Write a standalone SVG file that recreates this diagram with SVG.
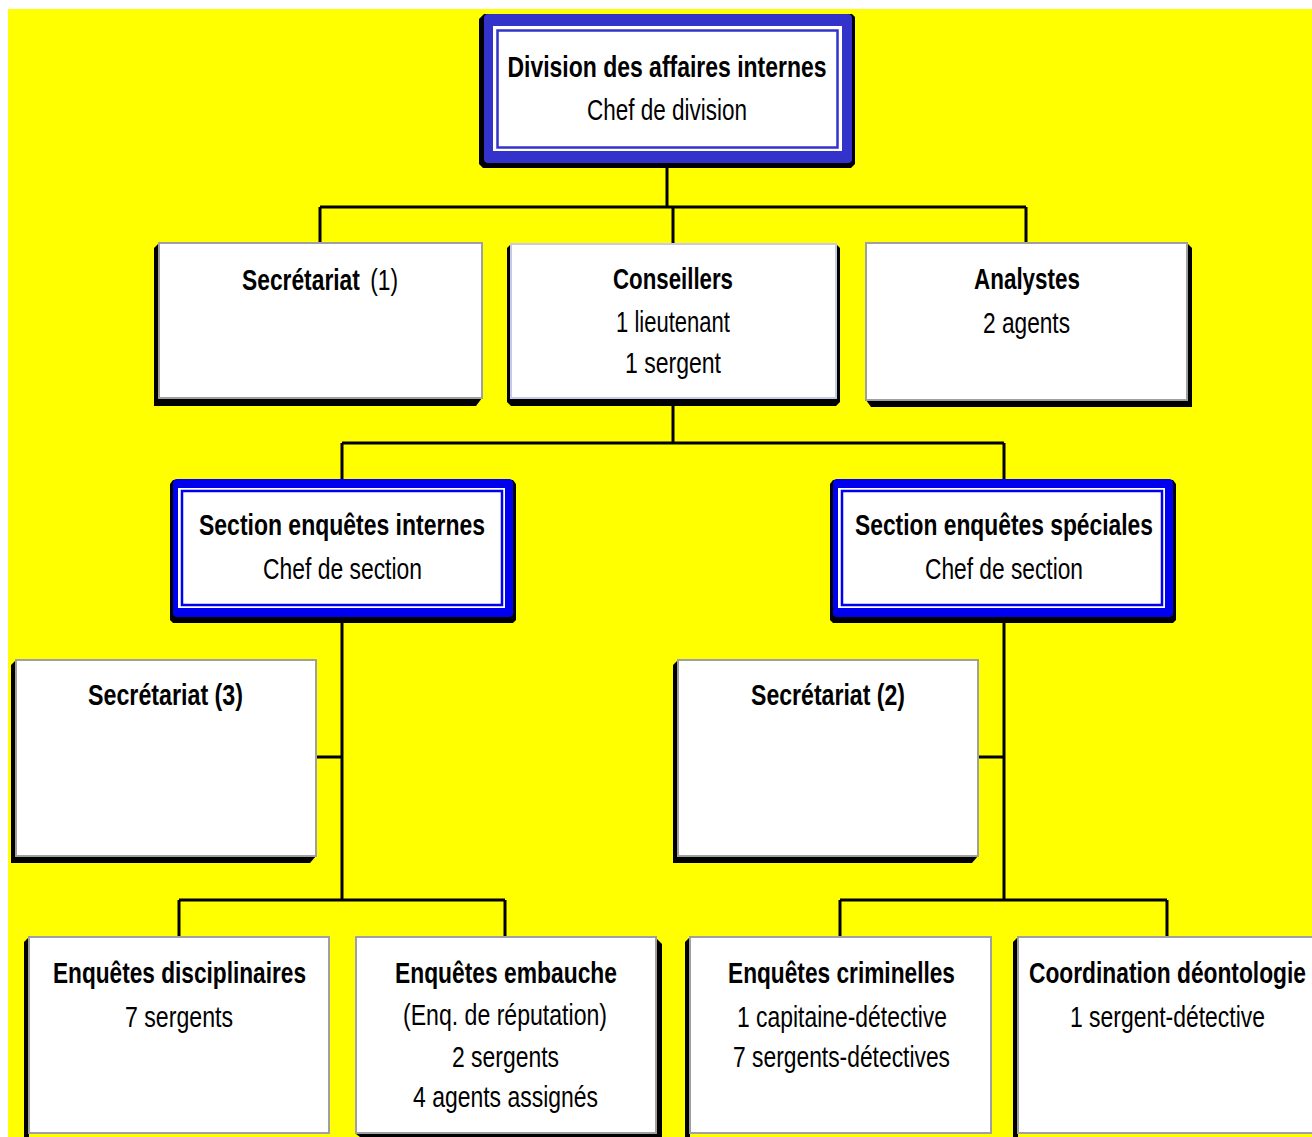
<svg xmlns="http://www.w3.org/2000/svg" width="1312" height="1137" viewBox="0 0 1312 1137">
<style>
text{font-family:"Liberation Sans Narrow","Liberation Sans",Arial,sans-serif;font-size:29px;fill:#000;text-anchor:middle}
.b{font-weight:bold}
.r{font-weight:normal}
.box{fill:#fff;stroke:#a0a0a0;stroke-width:2}
.sh{fill:#000}
.c{stroke:#000;stroke-width:3;fill:none}
.blueA{fill:#3333cc}
.blueB{fill:#0000f0}
.wb{fill:#fff}
</style>
<rect x="0" y="0" width="1312" height="1137" fill="#fff"/>
<rect x="8" y="9" width="1304" height="1128" fill="#ffff00"/>

<g id="connectors">
<path class="c" d="M667,163 V207 M320,207 H1026 M320,207 V243 M673,207 V243 M1026,207 V243"/>
<path class="c" d="M673,398 V443 M342,443 H1004 M342,443 V479 M1004,443 V479"/>
<path class="c" d="M342,617 V900 M316,757 H342 M179,900 H505 M179,900 V937 M505,900 V937"/>
<path class="c" d="M1004,617 V900 M978,757 H1004 M840,900 H1167 M840,900 V937 M1167,900 V937"/>
</g>

<g id="division">
<polygon class="sh" points="479,19 484,14 852,14 855,17 855,164 851,168 483,168 479,164"/>
<rect class="blueA" x="484" y="14" width="368" height="149" rx="4"/>
<rect class="wb" x="493" y="26" width="349" height="125"/>
<rect x="497.5" y="30.5" width="340" height="117" fill="#fff" stroke="#3333cc" stroke-width="2.5"/>
<text class="b" x="667" y="77" textLength="319" lengthAdjust="spacingAndGlyphs">Division des affaires internes</text>
<text x="667" y="120" textLength="160" lengthAdjust="spacingAndGlyphs">Chef de division</text>
</g>

<g id="secretariat1">
<polygon class="sh" points="154,248 159,243 159,398 482,398 476,406 154,406"/>
<rect class="box" x="159" y="243" width="323" height="155"/>
<text x="320" y="290" textLength="156" lengthAdjust="spacingAndGlyphs"><tspan class="b">Secrétariat</tspan> <tspan class="r" dx="5">(1)</tspan></text>
</g>

<g id="conseillers">
<polygon class="sh" points="507,248 512,243 835,243 840,248 840,402 836,406 511,406 507,402"/>
<rect class="box" x="511" y="244" width="325" height="154" style="stroke:#c8c8e8"/>
<text class="b" x="673" y="289" textLength="120" lengthAdjust="spacingAndGlyphs">Conseillers</text>
<text x="673" y="332" textLength="114" lengthAdjust="spacingAndGlyphs">1 lieutenant</text>
<text x="673" y="373" textLength="96" lengthAdjust="spacingAndGlyphs">1 sergent</text>
</g>

<g id="analystes">
<polygon class="sh" points="1187,243 1192,248 1192,407 871,407 866,400"/>
<rect class="box" x="866" y="243" width="321" height="157"/>
<text class="b" x="1027" y="289" textLength="106" lengthAdjust="spacingAndGlyphs">Analystes</text>
<text x="1026.5" y="333" textLength="87" lengthAdjust="spacingAndGlyphs">2 agents</text>
</g>

<g id="section-internes">
<polygon class="sh" points="170,484 173,480 513,480 516,484 516,620 513,623 173,623 170,620"/>
<rect class="blueB" x="173" y="479" width="340" height="138" rx="4"/>
<rect class="wb" x="178" y="488" width="327" height="120"/>
<rect x="182" y="491" width="320" height="114" fill="#fff" stroke="#0000f0" stroke-width="2.5"/>
<text class="b" x="342" y="535" textLength="286" lengthAdjust="spacingAndGlyphs">Section enquêtes internes</text>
<text x="342.5" y="579" textLength="159" lengthAdjust="spacingAndGlyphs">Chef de section</text>
</g>

<g id="section-speciales">
<polygon class="sh" points="830,484 833,480 1173,480 1176,484 1176,620 1173,623 833,623 830,620"/>
<rect class="blueB" x="833" y="479" width="340" height="138" rx="4"/>
<rect class="wb" x="838" y="488" width="327" height="120"/>
<rect x="842" y="491" width="320" height="114" fill="#fff" stroke="#0000f0" stroke-width="2.5"/>
<text class="b" x="1004" y="535" textLength="298" lengthAdjust="spacingAndGlyphs">Section enquêtes spéciales</text>
<text x="1004" y="579" textLength="158" lengthAdjust="spacingAndGlyphs">Chef de section</text>
</g>

<g id="secretariat3">
<polygon class="sh" points="11,665 16,660 16,856 316,856 310,863 11,863"/>
<rect class="box" x="16" y="660" width="300" height="196"/>
<text class="b" x="165.5" y="705" textLength="155" lengthAdjust="spacingAndGlyphs">Secrétariat (3)</text>
</g>

<g id="secretariat2">
<polygon class="sh" points="673,665 678,660 678,856 978,856 972,863 673,863"/>
<rect class="box" x="678" y="660" width="300" height="196"/>
<text class="b" x="828" y="705" textLength="154" lengthAdjust="spacingAndGlyphs">Secrétariat (2)</text>
</g>

<g id="disciplinaires">
<polygon class="sh" points="24,942 29,937 29,1137 24,1137"/>
<rect class="box" x="29" y="937" width="300" height="196"/>
<text class="b" x="179.5" y="983" textLength="253" lengthAdjust="spacingAndGlyphs">Enquêtes disciplinaires</text>
<text x="179" y="1027" textLength="108" lengthAdjust="spacingAndGlyphs">7 sergents</text>
</g>

<g id="embauche">
<polygon class="sh" points="656,938 662,944 662,1137 360,1137 356,1134"/>
<rect class="box" x="356" y="937" width="300" height="196"/>
<text class="b" x="506" y="983" textLength="222" lengthAdjust="spacingAndGlyphs">Enquêtes embauche</text>
<text x="505" y="1025" textLength="204" lengthAdjust="spacingAndGlyphs">(Enq. de réputation)</text>
<text x="505.5" y="1067" textLength="107" lengthAdjust="spacingAndGlyphs">2 sergents</text>
<text x="505.5" y="1107" textLength="185" lengthAdjust="spacingAndGlyphs">4 agents assignés</text>
</g>

<g id="criminelles">
<polygon class="sh" points="685,942 690,937 690,1137 685,1137"/>
<rect class="box" x="690" y="937" width="301" height="196"/>
<text class="b" x="841.5" y="983" textLength="227" lengthAdjust="spacingAndGlyphs">Enquêtes criminelles</text>
<text x="842" y="1027" textLength="210" lengthAdjust="spacingAndGlyphs">1 capitaine-détective</text>
<text x="841.5" y="1067" textLength="217" lengthAdjust="spacingAndGlyphs">7 sergents-détectives</text>
</g>

<g id="coordination">
<polygon class="sh" points="1013,942 1018,937 1018,1137 1013,1137"/>
<rect class="box" x="1018" y="937" width="302" height="196"/>
<text class="b" x="1167.5" y="983" textLength="277" lengthAdjust="spacingAndGlyphs">Coordination déontologie</text>
<text x="1167.5" y="1027" textLength="195" lengthAdjust="spacingAndGlyphs">1 sergent-détective</text>
</g>
</svg>
